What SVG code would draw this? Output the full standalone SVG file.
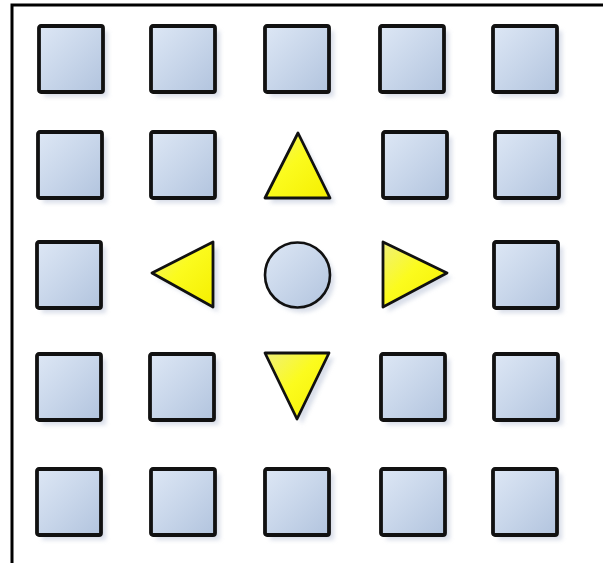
<svg xmlns="http://www.w3.org/2000/svg" width="603" height="563" viewBox="0 0 603 563">
<defs>
<linearGradient id="blue" x1="0" y1="0" x2="1" y2="1">
<stop offset="0" stop-color="#dde7f5"/>
<stop offset="0.5" stop-color="#c8d6ea"/>
<stop offset="1" stop-color="#b2c4de"/>
</linearGradient>
<linearGradient id="yel" x1="0" y1="0" x2="1" y2="1">
<stop offset="0" stop-color="#f0f07a"/>
<stop offset="0.45" stop-color="#fbfb1e"/>
<stop offset="1" stop-color="#f5ef00"/>
</linearGradient>
<filter id="sh" x="-20%" y="-20%" width="150%" height="150%">
<feGaussianBlur stdDeviation="2"/>
</filter>
<style>
.sq{fill:url(#blue);stroke:#111;stroke-width:3.8;stroke-linejoin:round}
.tr{fill:url(#yel);stroke:#111;stroke-width:2.8;stroke-linejoin:round}
.ci{fill:url(#blue);stroke:#111;stroke-width:2.6}
.shd{fill:#c9d0e0;opacity:0.7;filter:url(#sh)}
.frame{stroke:#000;stroke-width:3;fill:none}
</style>
<symbol id="box" overflow="visible">
<rect class="shd" x="5" y="5" width="64" height="66"/>
<rect class="sq" x="0" y="0" width="64" height="66" rx="2"/>
</symbol>
</defs>
<rect width="603" height="563" fill="#fff"/>
<path class="frame" d="M12 563 V5 H603"/>
<g id="r1c1"><use href="#box" x="39" y="26"/></g>
<g id="r1c2"><use href="#box" x="151" y="26"/></g>
<g id="r1c3"><use href="#box" x="265" y="26"/></g>
<g id="r1c4"><use href="#box" x="380" y="26"/></g>
<g id="r1c5"><use href="#box" x="493" y="26"/></g>
<g id="r2c1"><use href="#box" x="38" y="132"/></g>
<g id="r2c2"><use href="#box" x="151" y="132"/></g>
<g id="up"><polygon class="shd" points="302,138 335,203 270,203"/><polygon class="tr" points="298,133 330,198 265,198"/></g>
<g id="r2c4"><use href="#box" x="383" y="132"/></g>
<g id="r2c5"><use href="#box" x="495" y="132"/></g>
<g id="r3c1"><use href="#box" x="37" y="242"/></g>
<g id="left"><polygon class="shd" points="157,278 218,247 218,312"/><polygon class="tr" points="152,273 213,242 213,307"/></g>
<g id="center"><circle class="shd" cx="302" cy="280" r="32.5"/><circle class="ci" cx="297.5" cy="275" r="32.5"/></g>
<g id="right"><polygon class="shd" points="388,247 452,278 388,312"/><polygon class="tr" points="383,242 447,273 383,307"/></g>
<g id="r3c5"><use href="#box" x="494" y="242"/></g>
<g id="r4c1"><use href="#box" x="37" y="354"/></g>
<g id="r4c2"><use href="#box" x="150" y="354"/></g>
<g id="down"><polygon class="shd" points="270,358 334,358 302,424"/><polygon class="tr" points="265,353 329,353 297,419"/></g>
<g id="r4c4"><use href="#box" x="381" y="354"/></g>
<g id="r4c5"><use href="#box" x="494" y="354"/></g>
<g id="r5c1"><use href="#box" x="37" y="469"/></g>
<g id="r5c2"><use href="#box" x="151" y="469"/></g>
<g id="r5c3"><use href="#box" x="265" y="469"/></g>
<g id="r5c4"><use href="#box" x="381" y="469"/></g>
<g id="r5c5"><use href="#box" x="493" y="469"/></g>
<g id="connectors"></g>
</svg>
